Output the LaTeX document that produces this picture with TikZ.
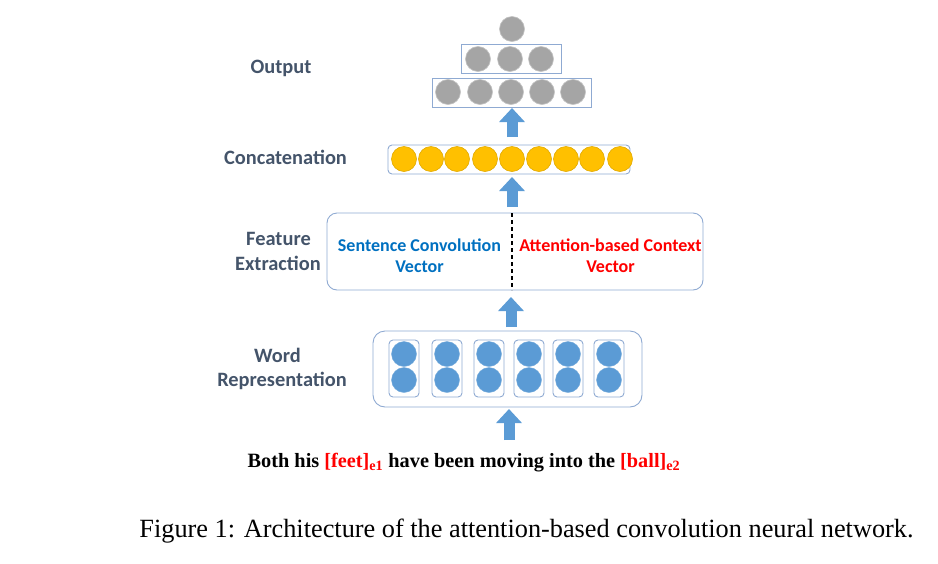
\documentclass[tikz,border=0pt]{standalone}
\usepackage{fontspec}
\setmainfont{Liberation Serif}
\newfontfamily\calfont{Carlito}
\usetikzlibrary{arrows.meta}
\definecolor{lblcol}{RGB}{68,84,106}
\definecolor{bluetxt}{RGB}{0,112,192}
\definecolor{redtxt}{RGB}{255,0,0}
\definecolor{arrowcol}{RGB}{91,155,213}
\definecolor{gfill}{RGB}{165,165,165}
\definecolor{gdraw}{RGB}{195,195,195}
\definecolor{yfill}{RGB}{255,192,0}
\definecolor{ydraw}{RGB}{225,170,0}
\definecolor{bfill}{RGB}{91,155,213}
\definecolor{boxline}{RGB}{143,170,210}
\begin{document}
\begin{tikzpicture}[x=1pt,y=-1pt,
  lbl/.style={font=\calfont\bfseries\fontsize{20.4}{24}\selectfont, text=lblcol, anchor=base, inner sep=0},
  vtxt/.style={font=\calfont\bfseries\fontsize{18}{21}\selectfont, anchor=base, inner sep=0},
  gc/.style={circle, fill=gfill, draw=gdraw, line width=0.6pt, minimum size=25pt, inner sep=0},
  yc/.style={circle, fill=yfill, draw=ydraw, line width=0.6pt, minimum size=25pt, inner sep=0},
  bc/.style={circle, fill=bfill, draw=bfill!85!white, line width=0.4pt, minimum size=25pt, inner sep=0},
  rbox/.style={draw=boxline, line width=0.9pt, inner sep=0},
  blockarrow/.style={draw=arrowcol, line width=11pt, -{Triangle[length=14pt,width=25pt]}}
]
\useasboundingbox (0,0) rectangle (938,563);

% Output layer
\node[gc] (o0) at (512,29) {};
\node[rbox, minimum width=100pt, minimum height=29pt] (ob2) at (511,58.5) {};
\node[gc] (o21) at (478,59) {};
\node[gc] (o22) at (510,59) {};
\node[gc] (o23) at (541,59) {};
\node[rbox, minimum width=159pt, minimum height=29pt] (ob1) at (511.5,92.5) {};
\node[gc] (o11) at (448,92) {};
\node[gc] (o12) at (480,92) {};
\node[gc] (o13) at (511,92) {};
\node[gc] (o14) at (542,92) {};
\node[gc] (o15) at (573,92) {};

% Concatenation
\node[rbox, rounded corners=4pt, minimum width=242pt, minimum height=29pt] (cb) at (509,159.5) {};
\foreach \i/\x in {1/404,2/431,3/457,4/485,5/512,6/539,7/566,8/592,9/620}
  \node[yc] (c\i) at (\x,159) {};

% Feature extraction
\node[rbox, rounded corners=10pt, minimum width=376pt, minimum height=77pt] (fb) at (515,251.5) {};
\coordinate (dtop) at (512,213);
\coordinate (dbot) at (512,290);
\draw[dash pattern=on 4pt off 3pt, line width=1.3pt] (dtop) -- (dbot);
\node[vtxt, text=bluetxt] (s1) at (419.5,251) {Sentence Convolution};
\node[vtxt, text=bluetxt] (s2) at (419.5,272) {Vector};
\node[vtxt, text=redtxt] (a1) at (610.5,251) {Attention-based Context};
\node[vtxt, text=redtxt] (a2) at (610.5,272) {Vector};

% Word representation
\node[rbox, rounded corners=12pt, minimum width=269pt, minimum height=76pt] (wb) at (507.5,369) {};
\foreach \i/\x in {1/404,2/447,3/489,4/529,5/568,6/609}{
  \node[rbox, rounded corners=4pt, minimum width=30pt, minimum height=57pt] (w\i) at (\x,368.5) {};
  \node[bc] (wu\i) at (\x,354) {};
  \node[bc] (wd\i) at (\x,380) {};
}

% Arrows
\coordinate (a1s) at (512,137); \coordinate (a1e) at (512,108);
\coordinate (a2s) at (512,207); \coordinate (a2e) at (512,177);
\coordinate (a3s) at (511,327); \coordinate (a3e) at (511,297);
\coordinate (a4s) at (509,440); \coordinate (a4e) at (509,409);
\draw[blockarrow] (a1s) -- (a1e);
\draw[blockarrow] (a2s) -- (a2e);
\draw[blockarrow] (a3s) -- (a3e);
\draw[blockarrow] (a4s) -- (a4e);

% Left labels
\node[lbl] (lout) at (281,73) {Output};
\node[lbl] (lcat) at (285.5,164) {Concatenation};
\node[lbl] (lfe1) at (278.5,245) {Feature};
\node[lbl] (lfe2) at (278,270) {Extraction};
\node[lbl] (lwr1) at (277.5,362) {Word};
\node[lbl] (lwr2) at (282,386) {Representation};

% Sentence
\node[anchor=base, inner sep=0, font=\bfseries\fontsize{20.3}{22}\selectfont] (sent) at (464,467)
  {Both his \textcolor{redtxt}{[feet]\textsubscript{e1}} have been moving into the \textcolor{redtxt}{[ball]\textsubscript{e2}}};

% Caption
\node[anchor=base, inner sep=0, font=\fontsize{26.3}{30}\selectfont] (cap) at (526.5,537)
  {Figure 1: Architecture of the attention-based convolution neural network.};
\end{tikzpicture}
\end{document}
